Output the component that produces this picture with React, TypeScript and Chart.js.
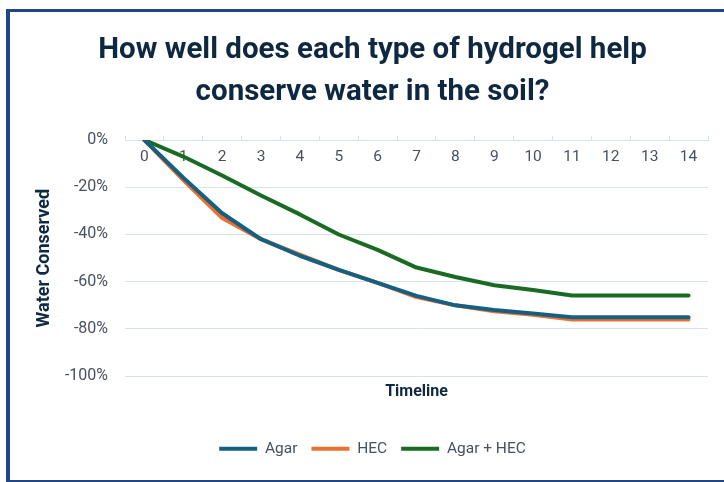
import React, { useEffect, useRef } from "react";
import { Chart, registerables } from "chart.js";

Chart.register(...registerables);

const titleLines = ["How well does each type of hydrogel help", "conserve water in the soil?"];
const timeline = ["0", "1", "2", "3", "4", "5", "6", "7", "8", "9", "10", "11", "12", "13", "14"];
const agar = [0, -16, -31, -42, -49, -55, -60.5, -66, -70, -72, -73.5, -75, -75, -75, -75];
const hec = [0, -17, -33, -42, -48.5, -55, -60.5, -66.5, -70, -72.5, -74, -76, -76, -76, -76];
const agarHec = [0, -7, -15, -23.5, -31.5, -40, -46.5, -54, -58, -61.5, -63.5, -65.8, -65.8, -65.8, -65.8];
const seriesNames = ["Agar", "HEC", "Agar + HEC"];
const yTitle = "Water Conserved";
const xTitle = "Timeline";

const FONT = "Roboto, 'Open Sans', 'Liberation Sans', sans-serif";
const NAVY = "#0e2841";
const TICK = "#47505e";
const GRID = "#d6e3f4";

export default function App() {
  const ref = useRef<HTMLCanvasElement | null>(null);

  useEffect(() => {
    document.body.style.margin = "0";
    const ctx = ref.current!.getContext("2d")!;
    const mk = (label: string, data: number[], color: string) => ({
      label,
      data,
      borderColor: color,
      backgroundColor: color,
      borderWidth: 4,
      borderCapStyle: "round" as const,
      borderJoinStyle: "round" as const,
      pointRadius: 0,
      pointHoverRadius: 0,
      fill: false,
      tension: 0,
    });
    const chart = new Chart(ctx, {
      type: "line",
      data: {
        labels: timeline,
        datasets: [
          mk(seriesNames[0], agar, "#156082"),
          mk(seriesNames[1], hec, "#e97132"),
          mk(seriesNames[2], agarHec, "#196b24"),
        ],
      },
      options: {
        animation: false,
        responsive: false,
        layout: { padding: { left: 21, right: 0, top: 0, bottom: 15.5 } },
        plugins: {
          tooltip: { enabled: false },
          title: {
            display: true,
            text: titleLines,
            color: NAVY,
            font: { family: FONT, size: 29.5, weight: "bold", lineHeight: 1.424 },
            padding: { top: 30, bottom: 26 },
          },
          legend: {
            position: "bottom",
            labels: {
              usePointStyle: true,
              pointStyle: "line",
              pointStyleWidth: 38,
              padding: 14,
              color: TICK,
              font: { family: FONT, size: 15.5 },
            },
          },
        },
        scales: {
          x: {
            type: "category",
            position: { y: 0 } as any,
            offset: true,
            grid: {
              display: true,
              drawOnChartArea: false,
              drawTicks: true,
              tickLength: -5,
              color: GRID,
              offset: true,
            },
            border: { display: true, color: GRID, width: 1 },
            ticks: {
              color: TICK,
              font: { family: FONT, size: 15.5 },
              padding: 13,
              maxRotation: 0,
              autoSkip: false,
            },
          },
          x2: {
            type: "category",
            position: "bottom",
            labels: timeline,
            grid: { display: false, drawTicks: false },
            border: { display: false },
            ticks: { display: false },
            title: {
              display: true,
              text: xTitle,
              color: NAVY,
              font: { family: FONT, size: 16, weight: "bold", lineHeight: 1.2 },
              padding: { top: 6, bottom: 25.6 },
            },
          },
          y: {
            type: "linear",
            position: "left",
            min: -100,
            max: 0,
            grid: { color: GRID, drawTicks: false },
            border: { display: false },
            ticks: {
              stepSize: 20,
              color: TICK,
              font: { family: FONT, size: 16 },
              padding: 17,
              callback: (v: any) => `${v}%`,
            },
            title: {
              display: true,
              text: yTitle,
              color: NAVY,
              font: { family: FONT, size: 18, weight: "bold", lineHeight: 1.2 },
              padding: { top: 13, bottom: 0 },
            },
            afterFit: (s: any) => {
              s.width = 104;
            },
          },
          y2: {
            type: "linear",
            position: "right",
            display: true,
            grid: { display: false, drawTicks: false },
            border: { display: false },
            ticks: { display: false },
            afterFit: (s: any) => {
              s.width = 16;
            },
          },
        },
      },
    });
    return () => chart.destroy();
  }, []);

  return (
    <div style={{ position: "relative", width: 724, height: 482 }}>
      <canvas ref={ref} width={724} height={482} style={{ display: "block" }} />
      <div
        style={{
          position: "absolute",
          left: 6,
          top: 9,
          width: 730,
          height: 473,
          boxSizing: "border-box",
          borderLeft: "4px solid #1f4788",
          borderTop: "3px solid #1f4788",
          borderBottom: "2px solid #1f4788",
          pointerEvents: "none",
        }}
      />
    </div>
  );
}
